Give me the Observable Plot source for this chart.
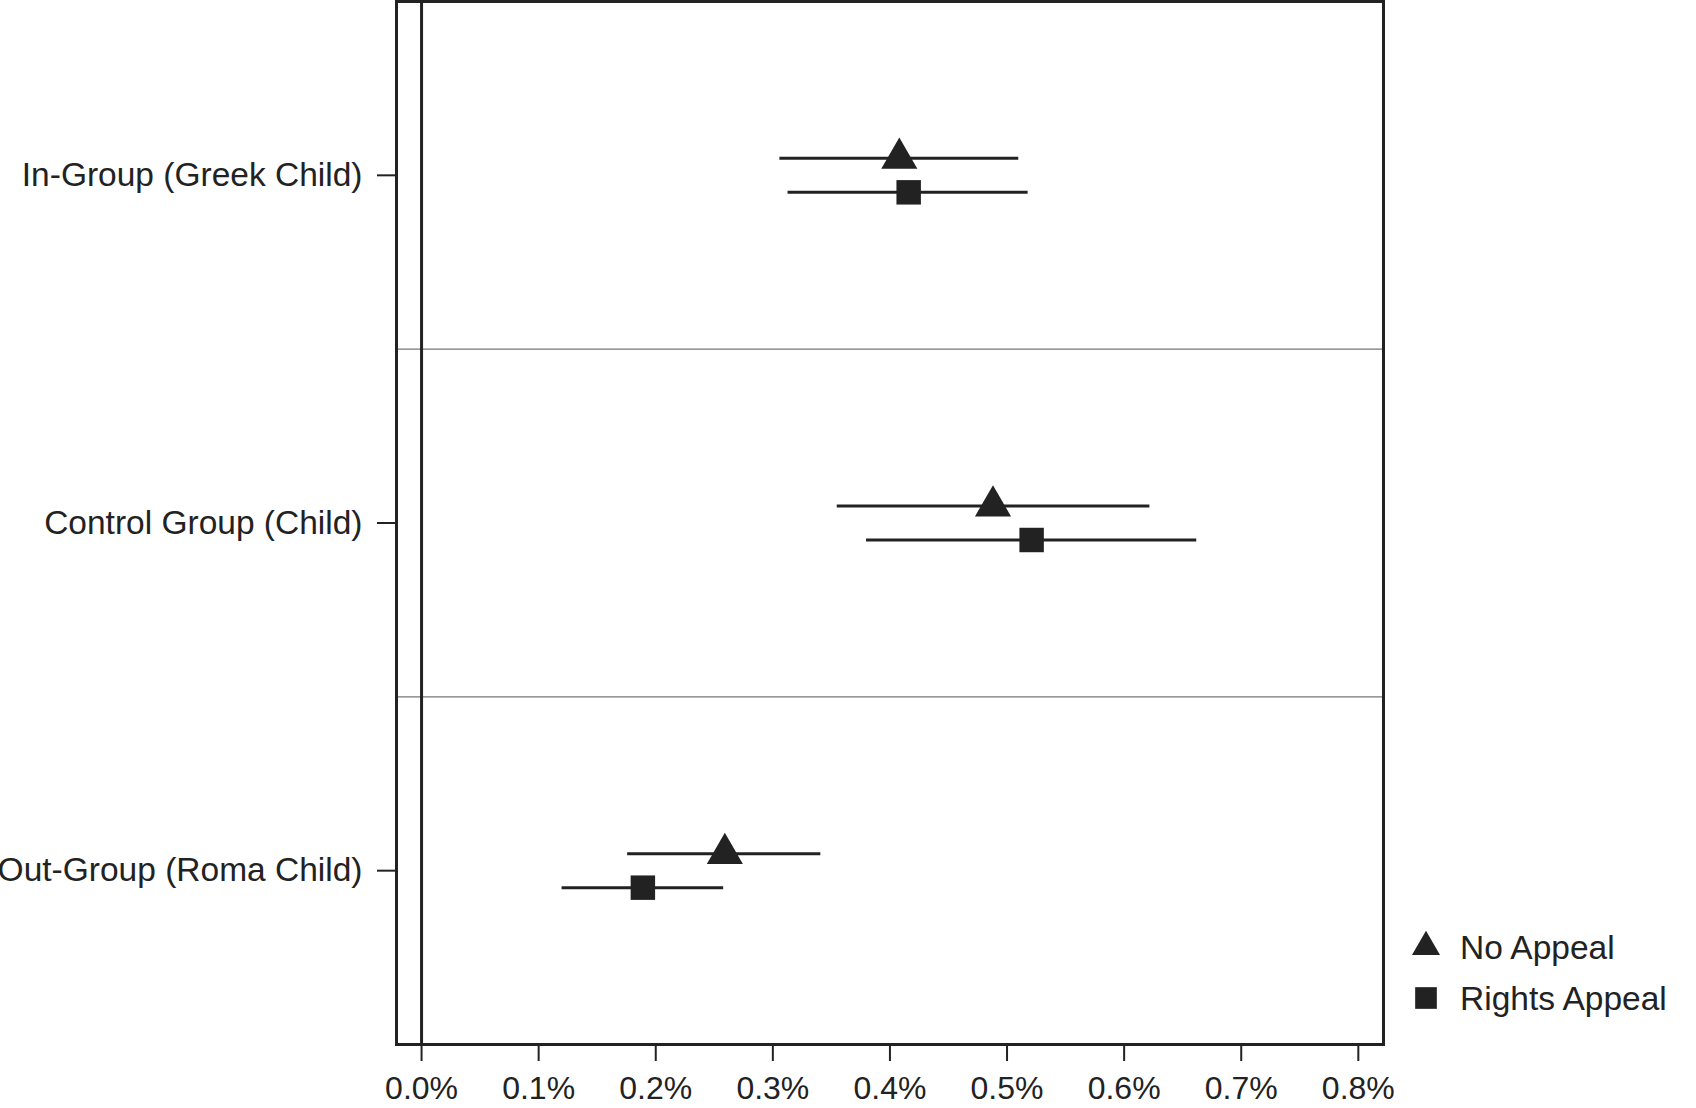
<!DOCTYPE html>
<html>
<head>
<meta charset="utf-8">
<script src="https://cdn.jsdelivr.net/npm/d3@7"></script>
<script src="https://cdn.jsdelivr.net/npm/@observablehq/plot@0.6"></script>
<style>
  html, body { margin: 0; padding: 0; background: #fff; }
  #wrap { position: relative; width: 1696px; height: 1108px; }
  #wrap svg [aria-label="x-axis tick"],
  #wrap svg [aria-label="y-axis tick"] { stroke-width: 2px; }
  #wrap svg [aria-label="y-axis tick label"] { font-size: 33.5px; }
  #legend { position: absolute; left: 1400px; top: 920px; }
</style>
</head>
<body>
<div id="wrap"></div>
<script>
// ---- data ----
const groups = ["In-Group (Greek Child)", "Control Group (Child)", "Out-Group (Roma Child)"];
const seriesNames = ["No Appeal", "Rights Appeal"];
const noAppealEst = [0.408, 0.488, 0.259];
const noAppealLo  = [0.306, 0.355, 0.176];
const noAppealHi  = [0.510, 0.622, 0.341];
const rightsEst   = [0.416, 0.521, 0.189];
const rightsLo    = [0.313, 0.380, 0.120];
const rightsHi    = [0.518, 0.662, 0.258];
const xTicks = [0, 0.1, 0.2, 0.3, 0.4, 0.5, 0.6, 0.7, 0.8];

const noData = groups.map((g, i) => ({i, est: noAppealEst[i], lo: noAppealLo[i], hi: noAppealHi[i]}));
const rtData = groups.map((g, i) => ({i, est: rightsEst[i], lo: rightsLo[i], hi: rightsHi[i]}));
const separators = d3.range(1, groups.length).map(i => i - 0.5);

const ink = "#222";
const font = "'Liberation Sans', Arial, Helvetica, sans-serif";

const chart = Plot.plot({
  width: 1696,
  height: 1108,
  marginLeft: 396,
  marginRight: 313,
  marginTop: 1,
  marginBottom: 64,
  style: {fontFamily: font, fontSize: "32px", color: ink, background: "#fff", overflow: "visible"},
  x: {domain: [-0.0214, 0.8215], ticks: xTicks, tickFormat: d => d.toFixed(1) + "%", tickSize: 17, tickPadding: 15, label: null},
  y: {domain: [-0.5, groups.length - 0.5], reverse: true, ticks: d3.range(groups.length), tickFormat: i => groups[i], tickSize: 19, tickPadding: 15, label: null},
  marks: [
    Plot.ruleY(separators, {stroke: "#777", strokeWidth: 1.3}),
    Plot.ruleX([0], {stroke: ink, strokeWidth: 3}),
    Plot.ruleY(noData, {y: "i", x1: "lo", x2: "hi", dy: -17, stroke: ink, strokeWidth: 3}),
    Plot.ruleY(rtData, {y: "i", x1: "lo", x2: "hi", dy: 17, stroke: ink, strokeWidth: 3}),
    Plot.dot(noData, {y: "i", x: "est", dy: -17, symbol: "triangle", r: 13.4, fill: ink, stroke: "none"}),
    Plot.dot(rtData, {y: "i", x: "est", dy: 17, symbol: "square", r: 13.8, fill: ink, stroke: "none"}),
    Plot.frame({stroke: ink, strokeWidth: 3})
  ]
});
document.getElementById("wrap").appendChild(chart);

// ---- legend ----
const symbols = [d3.symbolTriangle2, d3.symbolSquare2];
const symSizes = [Math.PI * 13.4 * 13.4, Math.PI * 13.8 * 13.8];
const leg = d3.select("#wrap").append("svg")
  .attr("id", "legend").attr("width", 296).attr("height", 110);
const item = leg.selectAll("g").data(seriesNames).join("g")
  .attr("transform", (d, i) => `translate(0, ${27 + i * 51})`);
item.append("path")
  .attr("transform", "translate(26,0)")
  .attr("d", (d, i) => d3.symbol(symbols[i], symSizes[i])())
  .attr("fill", ink);
item.append("text")
  .attr("x", 60).attr("y", 12)
  .attr("font-family", font).attr("font-size", 33.5).attr("fill", ink)
  .text(d => d);
</script>
</body>
</html>
